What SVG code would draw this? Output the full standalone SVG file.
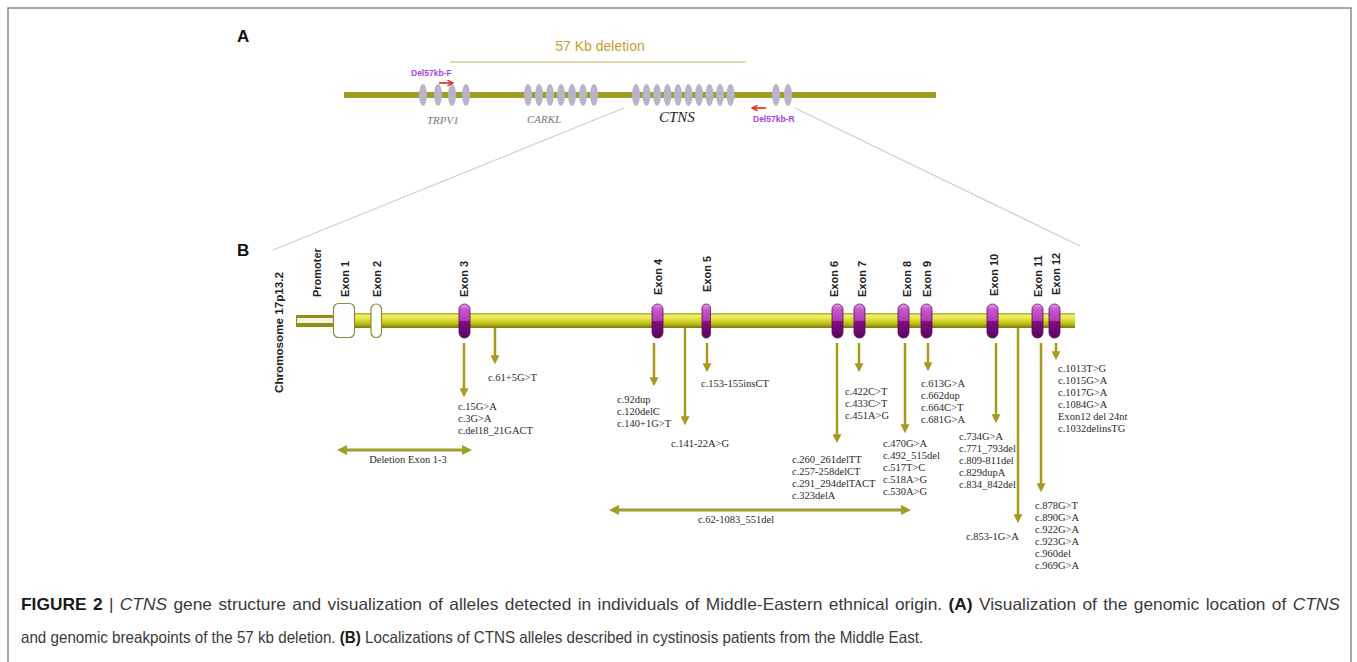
<svg xmlns="http://www.w3.org/2000/svg" width="1357" height="662" viewBox="0 0 1357 662">
<style>
.panel{font-family:"Liberation Sans",Arial,sans-serif;font-weight:bold;font-size:17px;fill:#111}
.lbl{font-family:"Liberation Sans",Arial,sans-serif;font-weight:bold;font-size:11px;fill:#222}
.mut{font-family:"Liberation Serif","Times New Roman",serif;font-size:10.5px;fill:#2a2a2a}
.gene{font-family:"Liberation Serif","Times New Roman",serif;font-style:italic;font-size:11px;fill:#7a7a7a}
.primer{font-family:"Liberation Sans",Arial,sans-serif;font-weight:bold;font-size:8.5px;fill:#a545e0}
.cap{font-family:"Liberation Sans",Arial,sans-serif;font-size:16.5px;fill:#3a3a3a}
.arr{stroke:#a89a1e;stroke-width:2.5;fill:none}
.darr{stroke:#9e9e2a;stroke-width:3;fill:none}
.red{stroke:#e62525;stroke-width:1.6;fill:none}
.exA{fill:#b9b5c9}
.diag{stroke:#cfcfcf;stroke-width:1.2;fill:none}
</style>
<defs>
<marker id="ah" viewBox="0 0 10 10" refX="3" refY="5" markerWidth="9" markerHeight="9" markerUnits="userSpaceOnUse" orient="auto"><path d="M0,0 L10,5 L0,10 z" fill="#a89a1e"/></marker>
<marker id="dh" viewBox="0 0 10 10" refX="3" refY="5" markerWidth="10" markerHeight="10" markerUnits="userSpaceOnUse" orient="auto-start-reverse"><path d="M0,0 L10,5 L0,10 z" fill="#9e9e2a"/></marker>
<marker id="rh" viewBox="0 0 10 10" refX="9" refY="5" markerWidth="7" markerHeight="7" markerUnits="userSpaceOnUse" orient="auto"><path d="M1,1 L9,5 L1,9" fill="none" stroke="#e62525" stroke-width="2"/></marker>
<linearGradient id="bar" x1="0" y1="0" x2="0" y2="1">
<stop offset="0" stop-color="#a8a820"/><stop offset="0.18" stop-color="#f2f27a"/><stop offset="0.45" stop-color="#dede2e"/><stop offset="0.75" stop-color="#b6b61a"/><stop offset="1" stop-color="#767610"/>
</linearGradient>
<linearGradient id="pill" x1="0" y1="0" x2="0" y2="1">
<stop offset="0" stop-color="#e8a0ee"/><stop offset="0.15" stop-color="#c858cc"/><stop offset="0.48" stop-color="#b040b6"/><stop offset="0.52" stop-color="#820e84"/><stop offset="1" stop-color="#5a065c"/>
</linearGradient>
</defs>
<rect x="8" y="8" width="1343" height="670" fill="#fff" stroke="#8a8a8a" stroke-width="1.5"/>

<g id="panelA">
<text class="panel" x="237" y="42">A</text>
<g id="deletion57">
<text x="600" y="51" text-anchor="middle" font-family="Liberation Sans, Arial, sans-serif" font-size="14" fill="#c9a030">57 Kb deletion</text>
<line x1="450" y1="62" x2="746" y2="62" stroke="#d8cc94" stroke-width="1.5"/>
</g>
<line id="chromA" x1="344" y1="95" x2="936" y2="95" stroke="#9e9e22" stroke-width="6"/>
<g id="TRPV1">
<ellipse class="exA" cx="423" cy="95" rx="4" ry="11"/><ellipse class="exA" cx="438" cy="95" rx="4" ry="11"/><ellipse class="exA" cx="452" cy="95" rx="4" ry="11"/><ellipse class="exA" cx="466" cy="95" rx="4" ry="11"/>
<text class="gene" x="427" y="124">TRPV1</text>
</g>
<g id="CARKL">
<ellipse class="exA" cx="528" cy="95" rx="4" ry="11"/><ellipse class="exA" cx="539" cy="95" rx="4" ry="11"/><ellipse class="exA" cx="550" cy="95" rx="4" ry="11"/><ellipse class="exA" cx="561" cy="95" rx="4" ry="11"/><ellipse class="exA" cx="572" cy="95" rx="4" ry="11"/><ellipse class="exA" cx="583" cy="95" rx="4" ry="11"/><ellipse class="exA" cx="594" cy="95" rx="4" ry="11"/>
<text class="gene" x="527" y="123">CARKL</text>
</g>
<g id="CTNS">
<ellipse class="exA" cx="636" cy="95" rx="4" ry="11"/><ellipse class="exA" cx="646.5" cy="95" rx="4" ry="11"/><ellipse class="exA" cx="657" cy="95" rx="4" ry="11"/><ellipse class="exA" cx="667.5" cy="95" rx="4" ry="11"/><ellipse class="exA" cx="678" cy="95" rx="4" ry="11"/><ellipse class="exA" cx="688.5" cy="95" rx="4" ry="11"/><ellipse class="exA" cx="699" cy="95" rx="4" ry="11"/><ellipse class="exA" cx="709.5" cy="95" rx="4" ry="11"/><ellipse class="exA" cx="720" cy="95" rx="4" ry="11"/><ellipse class="exA" cx="730.5" cy="95" rx="4" ry="11"/>
<text x="659" y="122" font-family="Liberation Serif, Times New Roman, serif" font-style="italic" font-size="15" fill="#1e1e1e">CTNS</text>
</g>
<g id="geneRight">
<ellipse class="exA" cx="776" cy="95" rx="4" ry="11"/><ellipse class="exA" cx="788" cy="95" rx="4" ry="11"/>
</g>
<g id="primerF">
<text class="primer" x="411" y="76">Del57kb-F</text>
<line class="red" x1="439" y1="83" x2="453" y2="83" marker-end="url(#rh)"/>
</g>
<g id="primerR">
<text class="primer" x="753" y="122">Del57kb-R</text>
<line class="red" x1="766" y1="108" x2="752" y2="108" marker-end="url(#rh)"/>
</g>
</g>

<g id="zoomLines">
<line class="diag" x1="624" y1="108" x2="273" y2="250"/>
<line class="diag" x1="795" y1="108" x2="1080" y2="246"/>
</g>

<g id="panelB">
<text class="panel" x="237" y="256">B</text>
<text class="lbl" font-size="12.5" transform="rotate(-90 283 393)" x="283" y="393" textLength="121" lengthAdjust="spacingAndGlyphs">Chromosome 17p13.2</text>
<g id="bar">
<rect x="333" y="313" width="742" height="15" fill="url(#bar)"/>
<rect x="296" y="315" width="40" height="12" fill="#8e8e1a"/>
<rect x="297" y="318" width="38" height="5" fill="#f4f4e0"/>
</g>
<g id="promoter"><text class="lbl" font-size="11.5" transform="rotate(-90 321 297)" x="321" y="297">Promoter</text></g>
<g id="exon1"><rect x="333.5" y="303.5" width="21" height="34" rx="5" fill="#fff" stroke="#8a8a3a" stroke-width="1.2"/><text class="lbl" transform="rotate(-90 349 297)" x="349" y="297">Exon 1</text></g>
<g id="exon2"><rect x="371" y="304" width="10.5" height="33.5" rx="5" fill="#fff" stroke="#8a8a3a" stroke-width="1.2"/><text class="lbl" transform="rotate(-90 381 297)" x="381" y="297">Exon 2</text></g>
<g id="exon3"><rect x="459" y="304" width="11" height="34" rx="5.5" fill="url(#pill)" stroke="#5a085c" stroke-width="0.8"/><text class="lbl" transform="rotate(-90 468 297)" x="468" y="297">Exon 3</text></g>
<g id="exon4"><rect x="652" y="304" width="11" height="34" rx="5.5" fill="url(#pill)" stroke="#5a085c" stroke-width="0.8"/><text class="lbl" transform="rotate(-90 662 295)" x="662" y="295">Exon 4</text></g>
<g id="exon5"><rect x="702" y="304" width="8.5" height="34" rx="4.2" fill="url(#pill)" stroke="#5a085c" stroke-width="0.8"/><text class="lbl" transform="rotate(-90 711 292)" x="711" y="292">Exon 5</text></g>
<g id="exon6"><rect x="832" y="304" width="11" height="34" rx="5.5" fill="url(#pill)" stroke="#5a085c" stroke-width="0.8"/><text class="lbl" transform="rotate(-90 838 297)" x="838" y="297">Exon 6</text></g>
<g id="exon7"><rect x="854" y="304" width="11" height="34" rx="5.5" fill="url(#pill)" stroke="#5a085c" stroke-width="0.8"/><text class="lbl" transform="rotate(-90 866 297)" x="866" y="297">Exon 7</text></g>
<g id="exon8"><rect x="898" y="304" width="11" height="34" rx="5.5" fill="url(#pill)" stroke="#5a085c" stroke-width="0.8"/><text class="lbl" transform="rotate(-90 911 297)" x="911" y="297">Exon 8</text></g>
<g id="exon9"><rect x="921" y="304" width="11" height="34" rx="5.5" fill="url(#pill)" stroke="#5a085c" stroke-width="0.8"/><text class="lbl" transform="rotate(-90 931 297)" x="931" y="297">Exon 9</text></g>
<g id="exon10"><rect x="987" y="304" width="11" height="34" rx="5.5" fill="url(#pill)" stroke="#5a085c" stroke-width="0.8"/><text class="lbl" transform="rotate(-90 998 296)" x="998" y="296">Exon 10</text></g>
<g id="exon11"><rect x="1032" y="304" width="11" height="34" rx="5.5" fill="url(#pill)" stroke="#5a085c" stroke-width="0.8"/><text class="lbl" transform="rotate(-90 1042 297)" x="1042" y="297">Exon 11</text></g>
<g id="exon12"><rect x="1049" y="304" width="11" height="34" rx="5.5" fill="url(#pill)" stroke="#5a085c" stroke-width="0.8"/><text class="lbl" transform="rotate(-90 1060 295)" x="1060" y="295">Exon 12</text></g>
</g>

<g id="connectors">
<line class="arr" x1="464" y1="343" x2="464" y2="391" marker-end="url(#ah)"/>
<line class="arr" x1="495" y1="328" x2="495" y2="358" marker-end="url(#ah)"/>
<line class="arr" x1="654" y1="343" x2="654" y2="380" marker-end="url(#ah)"/>
<line class="arr" x1="685" y1="328" x2="685" y2="419" marker-end="url(#ah)"/>
<line class="arr" x1="707" y1="343" x2="707" y2="366" marker-end="url(#ah)"/>
<line class="arr" x1="837" y1="343" x2="837" y2="437" marker-end="url(#ah)"/>
<line class="arr" x1="859" y1="343" x2="859" y2="366" marker-end="url(#ah)"/>
<line class="arr" x1="905" y1="343" x2="905" y2="427" marker-end="url(#ah)"/>
<line class="arr" x1="928" y1="343" x2="928" y2="365" marker-end="url(#ah)"/>
<line class="arr" x1="996" y1="343" x2="996" y2="417" marker-end="url(#ah)"/>
<line class="arr" x1="1018" y1="328" x2="1018" y2="517" marker-end="url(#ah)"/>
<line class="arr" x1="1041" y1="343" x2="1041" y2="486" marker-end="url(#ah)"/>
<line class="arr" x1="1056" y1="343" x2="1056" y2="354" marker-end="url(#ah)"/>
<line class="darr" x1="344" y1="450" x2="465" y2="450" marker-start="url(#dh)" marker-end="url(#dh)"/>
<line class="darr" x1="616" y1="510" x2="904" y2="510" marker-start="url(#dh)" marker-end="url(#dh)"/>
</g>

<g id="alleles">
<text class="mut" x="488" y="381">c.61+5G&gt;T</text>
<text class="mut" x="458" y="410">c.15G&gt;A<tspan x="458" dy="12">c.3G&gt;A</tspan><tspan x="458" dy="12">c.del18_21GACT</tspan></text>
<text class="mut" x="617" y="403">c.92dup<tspan x="617" dy="12">c.120delC</tspan><tspan x="617" dy="12">c.140+1G&gt;T</tspan></text>
<text class="mut" x="671" y="447">c.141-22A&gt;G</text>
<text class="mut" x="701" y="387">c.153-155insCT</text>
<text class="mut" x="845" y="395">c.422C&gt;T<tspan x="845" dy="12">c.433C&gt;T</tspan><tspan x="845" dy="12">c.451A&gt;G</tspan></text>
<text class="mut" x="921" y="387">c.613G&gt;A<tspan x="921" dy="12">c.662dup</tspan><tspan x="921" dy="12">c.664C&gt;T</tspan><tspan x="921" dy="12">c.681G&gt;A</tspan></text>
<text class="mut" x="792" y="463">c.260_261delTT<tspan x="792" dy="12">c.257-258delCT</tspan><tspan x="792" dy="12">c.291_294delTACT</tspan><tspan x="792" dy="12">c.323delA</tspan></text>
<text class="mut" x="883" y="447">c.470G&gt;A<tspan x="883" dy="12">c.492_515del</tspan><tspan x="883" dy="12">c.517T&gt;C</tspan><tspan x="883" dy="12">c.518A&gt;G</tspan><tspan x="883" dy="12">c.530A&gt;G</tspan></text>
<text class="mut" x="959" y="440">c.734G&gt;A<tspan x="959" dy="12">c.771_793del</tspan><tspan x="959" dy="12">c.809-811del</tspan><tspan x="959" dy="12">c.829dupA</tspan><tspan x="959" dy="12">c.834_842del</tspan></text>
<text class="mut" x="966" y="540" font-size="11.5">c.853-1G&gt;A</text>
<text class="mut" x="1035" y="509">c.878G&gt;T<tspan x="1035" dy="12">c.890G&gt;A</tspan><tspan x="1035" dy="12">c.922G&gt;A</tspan><tspan x="1035" dy="12">c.923G&gt;A</tspan><tspan x="1035" dy="12">c.960del</tspan><tspan x="1035" dy="12">c.969G&gt;A</tspan></text>
<text class="mut" x="1058" y="372">c.1013T&gt;G<tspan x="1058" dy="12">c.1015G&gt;A</tspan><tspan x="1058" dy="12">c.1017G&gt;A</tspan><tspan x="1058" dy="12">c.1084G&gt;A</tspan><tspan x="1058" dy="12">Exon12 del 24nt</tspan><tspan x="1058" dy="12">c.1032delinsTG</tspan></text>
<text class="mut" x="408" y="463" text-anchor="middle">Deletion Exon 1-3</text>
<text class="mut" x="736" y="523" text-anchor="middle">c.62-1083_551del</text>
</g>

<g id="caption" transform="translate(21,0) scale(0.87,1)">
<text class="cap" x="0" y="610" word-spacing="1.5" textLength="1516" lengthAdjust="spacingAndGlyphs"><tspan font-weight="bold" fill="#1a1a1a">FIGURE 2</tspan> | <tspan font-style="italic">CTNS</tspan> gene structure and visualization of alleles detected in individuals of Middle-Eastern ethnical origin. <tspan font-weight="bold" fill="#1a1a1a">(A)</tspan> Visualization of the genomic location of <tspan font-style="italic">CTNS</tspan></text>
<text class="cap" x="0" y="643" textLength="1037" lengthAdjust="spacingAndGlyphs">and genomic breakpoints of the 57 kb deletion. <tspan font-weight="bold" fill="#1a1a1a">(B)</tspan> Localizations of CTNS alleles described in cystinosis patients from the Middle East.</text>
</g>
</svg>
